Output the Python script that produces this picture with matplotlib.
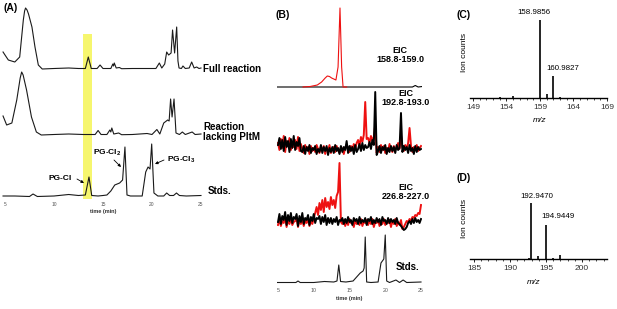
import numpy as np
import matplotlib
matplotlib.use("Agg")
import matplotlib.pyplot as plt
from matplotlib.patches import Rectangle

plt.rcParams['font.family'] = ['Liberation Sans', 'DejaVu Sans']
plt.rcParams['mathtext.fontset'] = 'custom'
plt.rcParams['mathtext.rm'] = 'Liberation Sans'
plt.rcParams['mathtext.bf'] = 'Liberation Sans:bold'
plt.rcParams['mathtext.it'] = 'Liberation Sans:italic'

# ---------------------------------------------------------------------------
# (A) UV chromatograms: time (min) / relative height
# ---------------------------------------------------------------------------
full_t = [4.8, 5.0, 5.34, 6.0, 6.5, 6.87, 7.0, 7.1, 7.25, 7.4, 7.75, 8.06,
          8.4, 8.8, 10.0, 11.5, 12.5, 13.2, 13.5, 13.8, 14.4, 14.7,
          15.0, 15.8, 16.0, 16.08, 16.15, 16.35, 16.67, 16.9, 18.0, 20.4,
          20.75, 21.0, 21.3, 21.5, 21.7, 21.95, 22.1, 22.31, 22.52, 22.65,
          22.76, 23.0, 23.16, 23.4, 23.8, 24.05, 24.3, 24.56, 24.8, 25.0]
full_i = [17, 14, 9, 7, 12, 49, 58, 61, 59, 55, 42, 22,
          4, 0, 0.5, 1, 0.5, 0.5, 12, 0.5, 0.5, 4,
          0.5, 0.5, 5, 3, 6, 1, 1.5, 0.3, 0.5, 0.5,
          6, 1, 5, 17, 14, 16, 39, 16, 42, 8,
          1, 0.5, 3, 0.5, 1, 7, 1, 2, 0.5, 1]

lack_t = [4.8, 5.17, 5.7, 6.2, 6.55, 6.7, 6.85, 7.2, 7.7, 8.2, 8.7,
          10.0, 11.5, 13.0, 14.2, 14.5, 14.8, 15.4, 15.7, 15.8, 15.9,
          16.1, 16.6, 16.9, 18.0, 19.5, 20.0, 20.5, 20.8, 21.2, 21.6,
          21.75, 21.9, 22.05, 22.25, 22.45, 22.8, 23.1, 23.4, 24.1, 24.4,
          25.0]
lack_i = [19, 10, 12, 35, 57, 63, 60, 45, 18, 3, 0,
          0.5, 1, 0.5, 0.5, 4.5, 0.5, 0.5, 5, 3, 7,
          1, 2, 0.3, 0.5, 1.5, 0.5, 5.5, 1, 12, 15,
          14, 36, 18, 36, 2, 0.5, 3, 0.5, 3, 0.5,
          1]

stds_t = [4.8, 6.0, 7.5, 7.86, 8.3, 10.0, 11.5, 12.5, 13.2, 13.57,
          13.85, 14.5, 15.0, 15.4, 15.8, 16.2, 16.7, 17.0, 17.24, 17.45,
          17.8, 19.0, 19.36, 19.6, 19.8, 19.97, 20.2, 20.6, 21.2, 21.5,
          21.8, 22.2, 22.5, 22.8, 23.5, 25.0]
stds_i = [1, 1, 0.5, 3, 0.5, 1, 2.5, 1.5, 2, 20,
          1.5, 1, 1.5, 2, 6, 12, 14, 17, 50, 2,
          1, 1, 25, 30, 28, 53, 4, 1, 1, 4,
          1.5, 1.5, 4, 1.5, 1, 1.5]

highlight = (12.96, 13.9)

# ---------------------------------------------------------------------------
# (B) EICs (red / black traces) + standards
# ---------------------------------------------------------------------------
eic1_red_t = [8.5, 9.5, 10.5, 11.1, 11.6, 11.9, 12.2, 12.5, 13.1, 13.4, 13.67, 13.9, 14.1, 14.6]
eic1_red_i = [0, 0.5, 2, 5, 9, 11, 10.5, 9, 7, 20, 79, 20, 0, 0]
eic1_blk_t = [4.8, 23.8, 24.2, 24.6, 25.2]
eic1_blk_i = [0, 0, 1.5, 0, 0.5]

# sampled every 0.2 min from 5 to 25
eic2_blk = [10, 17, 6, 15, 4, 18, 8, 14, 3, 16, 7, 19, 5, 13, 9, 17, 4,
            3, 9, 1, 8, 4, 10, 2, 7, 5, 9, 1, 6, 3, 10, 2, 8, 4, 9, 0, 7,
            3, 8, 2, 10, 4, 7, 1, 9, 3, 8, 5,
            14,
            2, 9, 4, 8, 1, 10, 3,
            6, 11, 4, 12, 5, 10, 7,
            8, 13, 6, 15, 10,
            63, 0,
            4, 9, 2, 8, 5, 10, 1, 7, 3, 9, 4, 8, 2, 10, 5, 7,
            42,
            3, 9, 5, 8, 2, 10, 4, 7, 1, 9, 3, 8, 5, 6]
eic2_red = [12, 5, 16, 7, 19, 3, 14, 9, 17, 5, 12, 8, 15, 6, 18, 4, 11,
            6, 2, 10, 5, 8, 1, 9, 4, 7, 3, 10, 6, 2, 8, 5, 9, 1, 7, 4, 10,
            2, 6, 8, 3, 9, 5, 2, 8, 6, 1, 7,
            10,
            7, 3, 9, 5, 11, 6, 12,
            15, 9, 18, 13, 20, 53, 16,
            17, 12, 19, 14, 18,
            30, 2,
            8, 3, 10, 5, 9, 2, 7, 4, 11, 6, 3, 9, 5, 8, 12, 6,
            20,
            8, 4, 10, 6, 12, 27, 9, 3, 8, 5, 10, 4, 7, 9]
eic3_blk = [5, 13, 3, 11, 7, 15, 2, 12, 6, 14, 4, 10, 8, 13, 1, 11, 5, 14,
            3, 9, 7, 12, 2, 10, 6, 13, 4, 9, 8, 11, 3, 10, 5, 12, 2, 9,
            4, 9, 3, 8, 5, 10, 2, 7, 6, 9, 3, 8, 4, 10, 5, 7, 2, 9, 6, 8,
            3, 10, 4, 7, 5, 9, 2, 8, 6, 10, 3, 7, 4, 9, 5, 8, 2, 10, 6, 7,
            3, 9, 4, 8, 5, 7, 3, 9, 4,
            3, 1, -1, -3, -2, 0, 4,
            6, 3, 8, 4, 9, 5, 7, 4, 8]
eic3_red = [2, 8, 1, 6, 4, 10, 0, 7, 3, 9, 2, 5, 6, 8, 0, 7, 3, 9, 1, 6,
            4, 8, 1, 6, 3, 9,
            14, 20, 12, 24, 17, 27, 15, 29, 20, 25, 18, 30, 22, 27, 19, 31,
            35, 64, 5,
            3, 7, 1, 6, 2, 8, 4, 5, 0, 7, 3, 6, 2, 8, 1, 5, 4, 7, 2, 6,
            3, 8, 0, 5, 4, 7, 1, 6, 3, 8, 2, 5, 4, 7, 0, 6, 3, 8, 1, 5,
            2, 7, -2, 0, 3, 6,
            5, 8, 6, 10, 9, 12, 11, 14, 13, 22]

bstd_t = [4.8, 7.5, 7.8, 8.1, 10.0, 11.5, 12.8, 13.25, 13.5, 13.75,
          14.5, 15.5, 16.0, 16.5, 16.9, 17.05, 17.2, 17.4, 18.0, 19.0,
          19.4, 19.6, 19.8, 20.0, 20.2, 20.6, 21.5, 22.0, 22.5, 23.0, 25.0]
bstd_i = [0.5, 0.5, 2, 0.5, 0.5, 1.5, 1, 2, 18, 1.5,
          1, 2, 6, 10, 12, 15, 46, 1, 0.5, 1,
          20, 22, 24, 48, 2, 0.5, 3, 0.5, 3, 0.5, 1]

# ---------------------------------------------------------------------------
# (C) / (D) mass spectra
# ---------------------------------------------------------------------------
c_mz = [153.0, 155.0, 158.9856, 159.98, 160.9827, 162.0]
c_rel = [0.01, 0.02, 1.0, 0.05, 0.28, 0.012]
d_mz = [192.6, 192.9470, 193.95, 194.9449, 195.95, 196.95]
d_rel = [0.02, 1.0, 0.06, 0.61, 0.025, 0.08]

W, H = 617, 309
RED = "#ee1111"
fig = plt.figure(figsize=(W / 100, H / 100), dpi=100)


def px_axes(left, top, right, bottom):
    return fig.add_axes([left / W, 1 - bottom / H, (right - left) / W, (bottom - top) / H])


def txt(x, y, s, **kw):
    kw.setdefault("va", "center")
    return fig.text(x / W, 1 - y / H, s, **kw)


def arrow(x0, y0, x1, y1):
    fig.add_artist(plt.Annotation("", xy=(x1 / W, 1 - y1 / H), xytext=(x0 / W, 1 - y0 / H),
                                  xycoords="figure fraction", textcoords="figure fraction",
                                  arrowprops=dict(arrowstyle="-|>", lw=0.6, color="black",
                                                  mutation_scale=4, shrinkA=0, shrinkB=0)))


def bare(ax):
    for s in ax.spines.values():
        s.set_visible(False)
    ax.set_yticks([])


# ---- (A) ----
axA = px_axes(1.08, 0, 204.9, 201)
axA.set_xlim(4.6, 25.4)
axA.set_ylim(-4, 197)
bare(axA)
axA.add_patch(Rectangle((highlight[0], -2), highlight[1] - highlight[0], 165,
                        color="#f6f66e", zorder=0, lw=0))
axA.plot(full_t, np.array(full_i) + 128, color="#1a1a1a", lw=0.8)
axA.plot(lack_t, np.array(lack_i) + 62, color="#1a1a1a", lw=0.8)
axA.plot(stds_t, stds_i, color="#1a1a1a", lw=0.8)
axA.set_xticks([5, 10, 15, 20, 25])
axA.tick_params(axis="x", length=0, pad=1, labelsize=3.5, labelcolor="#555555")
axA.set_xlabel("time (min)", fontsize=4, fontweight="bold", labelpad=1.5, color="#333333")

txt(3, 8, "(A)", fontsize=7.5, fontweight="bold")
txt(203, 69, "Full reaction", fontsize=7, fontweight="bold")
txt(203, 132, "Reaction\nlacking PltM", fontsize=7, fontweight="bold", linespacing=1.0)
txt(208, 191, "Stds.", fontsize=7, fontweight="bold")
txt(60, 178, "PG-Cl", fontsize=6, fontweight="bold", ha="center")
txt(93, 153, r"PG-Cl$_\mathbf{2}$", fontsize=6, fontweight="bold")
txt(167, 160, r"PG-Cl$_\mathbf{3}$", fontsize=6, fontweight="bold")
arrow(77, 179, 84, 183)
arrow(114, 160, 121, 167)
arrow(164, 160, 155, 164)

# ---- (B) ----
axB = px_axes(276.57, 0, 422.43, 284)
axB.set_xlim(4.8, 25.2)
axB.set_ylim(0, 284)
bare(axB)
grid_t = np.linspace(5, 25, len(eic2_blk))
axB.plot(eic1_blk_t, np.array(eic1_blk_i) + 197, color="black", lw=0.8)
axB.plot(eic1_red_t, np.array(eic1_red_i) + 197, color=RED, lw=0.8)
axB.plot(grid_t, np.array(eic2_red) + 129, color=RED, lw=1.4)
axB.plot(grid_t, np.array(eic2_blk) + 129, color="black", lw=1.4)
axB.plot(grid_t, np.array(eic3_red) + 57, color=RED, lw=1.4)
axB.plot(grid_t, np.array(eic3_blk) + 57, color="black", lw=1.4)
axB.plot(bstd_t, np.array(bstd_i) + 1, color="#1a1a1a", lw=0.8)
axB.set_xticks([5, 10, 15, 20, 25])
axB.tick_params(axis="x", length=0, pad=3, labelsize=3.8, labelcolor="#555555")
axB.set_xlabel("time (min)", fontsize=4, fontweight="bold", labelpad=2, color="#333333")

txt(275, 15, "(B)", fontsize=7.5, fontweight="bold")
txt(400, 55, "EIC\n158.8-159.0", fontsize=6.5, fontweight="bold", ha="center", linespacing=1.1)
txt(406, 98, "EIC\n192.8-193.0", fontsize=6.5, fontweight="bold", ha="center", linespacing=1.1)
txt(406, 192, "EIC\n226.8-227.0", fontsize=6.5, fontweight="bold", ha="center", linespacing=1.1)
txt(408, 267, "Stds.", fontsize=7, fontweight="bold", ha="center")


# ---- (C) / (D) ----
def spectrum(ax, mz, rel, lim, major):
    ax.vlines(mz, 0, rel, color="black", lw=1.2)
    ax.set_xlim(*lim)
    ax.set_ylim(0, 1)
    for s in ["top", "right", "left"]:
        ax.spines[s].set_visible(False)
    ax.spines["bottom"].set_linewidth(1.0)
    ax.set_yticks([])
    ax.set_xticks(major)
    ax.set_xticks(np.arange(np.ceil(lim[0]), lim[1] + 0.01, 1), minor=True)
    ax.tick_params(axis="x", which="major", length=2.5, width=0.6, pad=2,
                   labelsize=6, labelcolor="#333333")
    ax.tick_params(axis="x", which="minor", length=1.5, width=0.5)


axC = px_axes(470.3, 20, 607, 98)
spectrum(axC, c_mz, c_rel, (148.6, 169), [149, 154, 159, 164, 169])
axD = px_axes(470.4, 203, 607.2, 259)
spectrum(axD, d_mz, d_rel, (184.5, 203.5), [185, 190, 195, 200])

txt(457, 15, "(C)", fontsize=7.5, fontweight="bold")
txt(534, 13, "158.9856", fontsize=5.7, ha="center")
txt(563, 68, "160.9827", fontsize=5.7, ha="center")
txt(465, 52, "Ion counts", fontsize=6, rotation=90, ha="center")
txt(540, 120, "m/z", fontsize=6, style="italic", ha="center")

txt(457, 178, "(D)", fontsize=7.5, fontweight="bold")
txt(537, 197, "192.9470", fontsize=5.7, ha="center")
txt(558, 216, "194.9449", fontsize=5.7, ha="center")
txt(465, 218, "Ion counts", fontsize=6, rotation=90, ha="center")
txt(534, 282, "m/z", fontsize=6, style="italic", ha="center")

fig.savefig("out.png", dpi=100)
